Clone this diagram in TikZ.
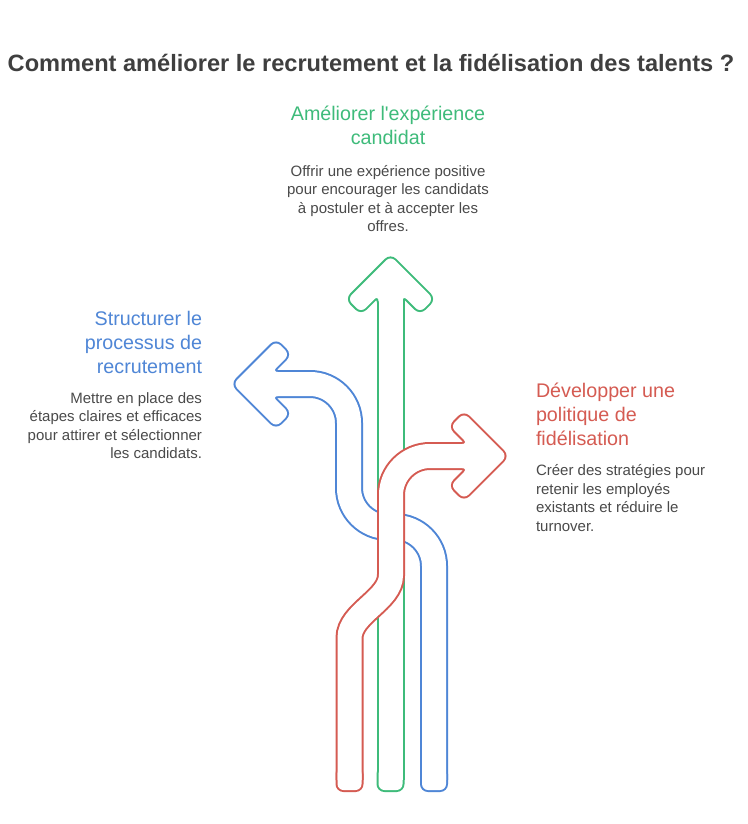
\documentclass[tikz,border=0pt]{standalone}
\usepackage{fontspec}
\setmainfont{Liberation Sans}[Ligatures=TeXOff]
\usetikzlibrary{positioning}

\definecolor{grnC}{HTML}{3EBB7A}
\definecolor{bluC}{HTML}{4F86D6}
\definecolor{redC}{HTML}{D55B52}
\definecolor{ttlC}{HTML}{3F3F3F}
\definecolor{txtC}{HTML}{4A4A4A}

\begin{document}
\begin{tikzpicture}[x=1pt, y=-1pt]
\tikzset{ inner sep=0pt, outer sep=0pt,
  band/.style={draw=#1, line width=28pt},
  bandin/.style={draw=white, line width=24pt},
  tipout/.style={fill=#1, draw=#1, line width=4pt, rounded corners=6pt},
  tipin/.style={fill=white, rounded corners=6pt},
  head/.style={font=\fontsize{19.7}{24}\selectfont, text=#1},
  body/.style={font=\fontsize{15}{18.5}\selectfont, text=txtC},
}

\fill [white] (0,0) rectangle (747,824);

%\draw [lightgray, dashed](0,0) grid[step=50] (747,824);

\node [font=\bfseries\fontsize{23.6}{26}\selectfont, text=ttlC] (title) at (371,63)
  {Comment améliorer le recrutement et la fidélisation des talents ?};

\node [head=grnC, align=center] (candhead) at (388,125) {Améliorer l'expérience\\candidat};
\node [body, align=center] (candtext) at (388,198.5)
  {Offrir une expérience positive\\pour encourager les candidats\\à postuler et à accepter les\\offres.};

\node [head=bluC, align=right, anchor=east] (structhead) at (202,342.5) {Structurer le\\processus de\\recrutement};
\node [body, align=right, anchor=east] (structtext) at (202,425.5)
  {Mettre en place des\\étapes claires et efficaces\\pour attirer et sélectionner\\les candidats.};

\node [head=redC, align=left, anchor=west] (fidhead) at (536,414) {Développer une\\politique de\\fidélisation};
\node [body, align=left, anchor=west] (fidtext) at (536,498)
  {Créer des stratégies pour\\retenir les employés\\existants et réduire le\\turnover.};

% blue arrow (left)
\draw [band=bluC] (434,780) -- (434,566) .. controls (434,544.5) and (416.5,527) .. (395,527)
  -- (388,527) .. controls (366.5,527) and (349,509.5) .. (349,488)
  -- (349,423) .. controls (349,401.5) and (331.5,384) .. (310,384) -- (272,384);
\filldraw [tipout=bluC] (233,384) -- (276,427) -- (289.5,413.5) -- (272,396) -- (283,396)
  -- (283,372) -- (272,372) -- (289.5,354.5) -- (276,341) -- cycle;
\filldraw [tipout=bluC] (422,768) rectangle (446,790);
\draw [bandin] (434,780) -- (434,566) .. controls (434,544.5) and (416.5,527) .. (395,527)
  -- (388,527) .. controls (366.5,527) and (349,509.5) .. (349,488)
  -- (349,423) .. controls (349,401.5) and (331.5,384) .. (310,384) -- (272,384);
\fill [tipin] (233,384) -- (276,427) -- (289.5,413.5) -- (272,396) -- (283,396)
  -- (283,372) -- (272,372) -- (289.5,354.5) -- (276,341) -- cycle;
\fill [tipin] (422,768) rectangle (446,790);

% green arrow (up)
\draw [band=grnC] (390.5,780) -- (390.5,295);
\filldraw [tipout=grnC] (390.5,256) -- (433.5,299) -- (420,312.5) -- (402.5,295) -- (402.5,306)
  -- (378.5,306) -- (378.5,295) -- (361,312.5) -- (347.5,299) -- cycle;
\filldraw [tipout=grnC] (378.5,768) rectangle (402.5,790);
\draw [bandin] (390.5,780) -- (390.5,295);
\fill [tipin] (390.5,256) -- (433.5,299) -- (420,312.5) -- (402.5,295) -- (402.5,306)
  -- (378.5,306) -- (378.5,295) -- (361,312.5) -- (347.5,299) -- cycle;
\fill [tipin] (378.5,768) rectangle (402.5,790);

% red arrow (right), on top
\draw [band=redC] (349.5,780) -- (349.5,638) .. controls (349.5,613) and (391,600) .. (391,575)
  -- (391,495) .. controls (391,473.5) and (408.5,456) .. (430,456) -- (468,456);
\filldraw [tipout=redC] (507,456) -- (464,499) -- (450.5,485.5) -- (468,468) -- (457,468)
  -- (457,444) -- (468,444) -- (450.5,426.5) -- (464,413) -- cycle;
\filldraw [tipout=redC] (337.5,768) rectangle (361.5,790);
\draw [bandin] (349.5,780) -- (349.5,638) .. controls (349.5,613) and (391,600) .. (391,575)
  -- (391,495) .. controls (391,473.5) and (408.5,456) .. (430,456) -- (468,456);
\fill [tipin] (507,456) -- (464,499) -- (450.5,485.5) -- (468,468) -- (457,468)
  -- (457,444) -- (468,444) -- (450.5,426.5) -- (464,413) -- cycle;
\fill [tipin] (337.5,768) rectangle (361.5,790);

\end{tikzpicture}
\end{document}
